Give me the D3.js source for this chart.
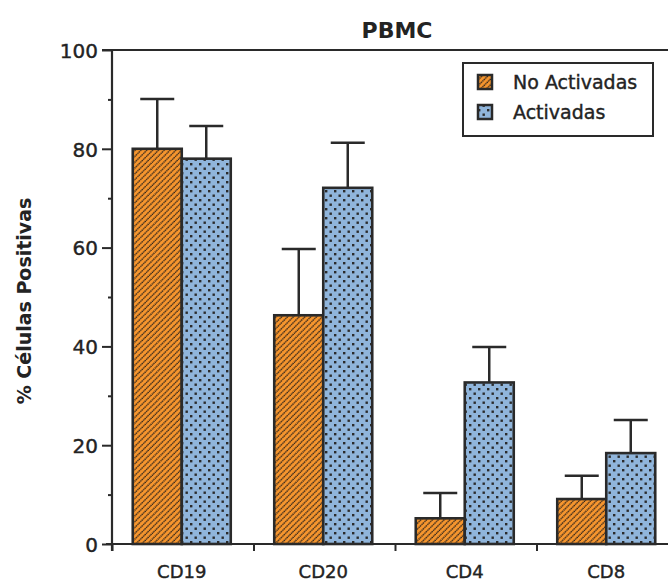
<!DOCTYPE html>
<html>
<head>
<meta charset="utf-8">
<script src="https://cdn.jsdelivr.net/npm/d3@7"></script>
<style>
  html, body { margin: 0; padding: 0; background: #fff; }
  svg { display: block; }
  text { font-family: "Comic Sans MS", "DejaVu Sans", sans-serif; fill: #232323; }
  .thick { stroke: #232323; stroke-width: 0.4px; }
</style>
</head>
<body>
<svg id="chart" width="668" height="583"></svg>
<script>
// Cell markers and percentage of positive cells per condition
const categories = ["CD19", "CD20", "CD4", "CD8"];
const seriesNames = ["No Activadas", "Activadas"];
const noActivadas = [80, 46.3, 5.2, 9.1];
const activadas = [78, 72.1, 32.7, 18.4];
const noActivadasErr = [10.1, 13.4, 5.1, 4.7];
const activadasErr = [6.6, 9.1, 7.2, 6.7];
const yMajorTicks = [0, 20, 40, 60, 80, 100];
const yMinorTicks = [10, 30, 50, 70, 90];

const ink = "#2a2a2a";
const svg = d3.select("#chart");
const defs = svg.append("defs");

// Orange diagonal dotted hatch
const hs = 4.1;
const hatch = defs.append("pattern")
  .attr("id", "hatch").attr("patternUnits", "userSpaceOnUse")
  .attr("width", hs).attr("height", hs)
  .attr("patternTransform", "rotate(45)");
hatch.append("rect").attr("width", hs).attr("height", hs).attr("fill", "#f7962e");
hatch.append("line").attr("x1", 1).attr("x2", 1).attr("y1", 0).attr("y2", hs)
  .attr("stroke", "#33261a").attr("stroke-width", 1.4).attr("stroke-dasharray", "1.5,0.55");

// Blue stippled fill
const dots = defs.append("pattern")
  .attr("id", "dots").attr("patternUnits", "userSpaceOnUse")
  .attr("width", 9).attr("height", 9);
dots.append("rect").attr("width", 9).attr("height", 9).attr("fill", "#90b5db");
dots.append("rect").attr("x", 1).attr("y", 1).attr("width", 2.4).attr("height", 2.4).attr("fill", "#2b2b2b");
dots.append("rect").attr("x", 5.5).attr("y", 5.5).attr("width", 2.4).attr("height", 2.4).attr("fill", "#2b2b2b");

const fills = ["url(#hatch)", "url(#dots)"];

const y = d3.scaleLinear().domain([0, 100]).range([544, 50]);
const x0 = d3.scaleBand().domain(categories).range([111, 677]).padding(0);
const x1 = d3.scaleBand().domain(seriesNames).range([-49, 49]).padding(0);

const rows = categories.map((c, i) => [
  { cat: c, s: seriesNames[0], v: noActivadas[i], e: noActivadasErr[i] },
  { cat: c, s: seriesNames[1], v: activadas[i], e: activadasErr[i] }
]).flat();

const cx = d => x0(d.cat) + x0.bandwidth() / 2 + x1(d.s);

// Error bars (upper only)
const capHalf = 17;
const eb = svg.append("g").attr("stroke", ink).attr("stroke-width", 2.5);
rows.forEach(d => {
  const mx = cx(d) + x1.bandwidth() / 2;
  eb.append("line").attr("x1", mx).attr("x2", mx).attr("y1", y(d.v)).attr("y2", y(d.v + d.e));
  eb.append("line").attr("x1", mx - capHalf).attr("x2", mx + capHalf)
    .attr("y1", y(d.v + d.e)).attr("y2", y(d.v + d.e));
});

// Bars
svg.append("g").selectAll("rect").data(rows).join("rect")
  .attr("x", d => cx(d))
  .attr("y", d => y(d.v))
  .attr("width", x1.bandwidth())
  .attr("height", d => y(0) - y(d.v))
  .attr("fill", d => fills[seriesNames.indexOf(d.s)])
  .attr("stroke", ink).attr("stroke-width", 2.6);

// Y axis
const yAxis = svg.append("g").attr("transform", "translate(112,0)")
  .call(d3.axisLeft(y).tickValues(yMajorTicks).tickSize(10).tickPadding(4).tickFormat(d3.format("d")));
yAxis.select(".domain").remove();
yAxis.selectAll("line").attr("stroke", ink).attr("stroke-width", 2);
yAxis.selectAll("text").attr("font-size", 20).attr("fill", "#232323").attr("dy", "0.36em")
  .attr("class", "thick");
const yMinor = svg.append("g").attr("transform", "translate(112,0)")
  .call(d3.axisLeft(y).tickValues(yMinorTicks).tickSize(4).tickFormat(""));
yMinor.select(".domain").remove();
yMinor.selectAll("line").attr("stroke", ink).attr("stroke-width", 2);
svg.append("line").attr("x1", 112).attr("x2", 112).attr("y1", y(100)).attr("y2", y(0) + 7)
  .attr("stroke", ink).attr("stroke-width", 2.2);
// Top frame line
svg.append("line").attr("x1", 102).attr("x2", 668).attr("y1", y(100)).attr("y2", y(100))
  .attr("stroke", ink).attr("stroke-width", 2);

// X axis
svg.append("line").attr("x1", 106).attr("x2", 668).attr("y1", y(0)).attr("y2", y(0))
  .attr("stroke", ink).attr("stroke-width", 2.2);
svg.append("g").selectAll("line").data(categories).join("line")
  .attr("x1", d => x0(d) + 1.5).attr("x2", d => x0(d) + 1.5)
  .attr("y1", y(0)).attr("y2", y(0) + 7)
  .attr("stroke", ink).attr("stroke-width", 2);
svg.append("g").selectAll("text").data(categories).join("text")
  .attr("class", "thick")
  .attr("x", d => x0(d) + x0.bandwidth() / 2)
  .attr("y", 578)
  .attr("text-anchor", "middle").attr("font-size", 18)
  .text(d => d);

// Title and axis label
svg.append("text").attr("x", 397).attr("y", 38).attr("text-anchor", "middle")
  .attr("font-size", 22).attr("font-weight", "bold").text("PBMC");
svg.append("text").attr("transform", "translate(31,301) rotate(-90)")
  .attr("text-anchor", "middle").attr("font-size", 19).attr("font-weight", "bold")
  .text("% Células Positivas");

// Legend
const lg = svg.append("g");
lg.append("rect").attr("x", 463).attr("y", 63).attr("width", 190).attr("height", 73)
  .attr("fill", "#fff").attr("stroke", ink).attr("stroke-width", 2);
seriesNames.forEach((s, i) => {
  const yy = 75 + i * 30;
  lg.append("rect").attr("x", 478).attr("y", yy).attr("width", 14).attr("height", 14)
    .attr("fill", fills[i]).attr("stroke", ink).attr("stroke-width", 2.5);
  lg.append("text").attr("class", "thick").attr("x", 513).attr("y", yy + 14)
    .attr("font-size", 19).text(s);
});
</script>
</body>
</html>
